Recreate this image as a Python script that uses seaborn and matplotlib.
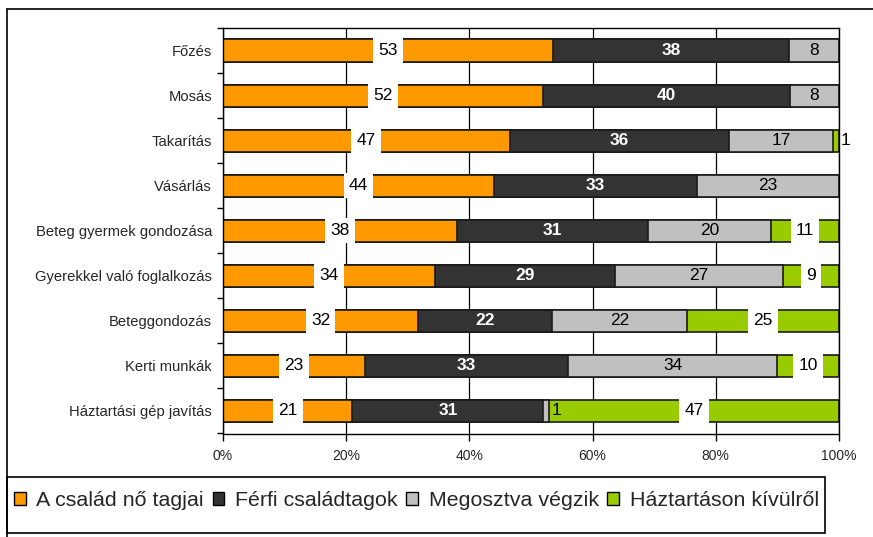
import numpy as np
import pandas as pd
import matplotlib
matplotlib.use("Agg")
import matplotlib.pyplot as plt
from matplotlib.patches import Rectangle, Patch
from matplotlib.lines import Line2D
import seaborn as sns

# data
categories = ["Főzés", "Mosás", "Takarítás", "Vásárlás", "Beteg gyermek gondozása",
              "Gyerekkel való foglalkozás", "Beteggondozás", "Kerti munkák",
              "Háztartási gép javítás"]
women = [53, 52, 47, 44, 38, 34, 32, 23, 21]
men = [38, 40, 36, 33, 31, 29, 22, 33, 31]
shared = [8, 8, 17, 23, 20, 27, 22, 34, 1]
outside = [0, 0, 1, 0, 11, 9, 25, 10, 47]
series_names = ["A család nő tagjai", "Férfi családtagok", "Megosztva végzik", "Háztartáson kívülről"]
colors = ["#FF9900", "#333333", "#C0C0C0", "#99CC00"]

sns.set_theme(style="white")
plt.rcParams["font.family"] = ["Liberation Sans", "DejaVu Sans"]

df = pd.DataFrame({"cat": categories, "w": women, "m": men, "s": shared, "o": outside})
vals = df[["w", "m", "s", "o"]].to_numpy(dtype=float)
pct = vals / vals.sum(axis=1, keepdims=True) * 100
cum = np.cumsum(pct, axis=1)

fig = plt.figure(figsize=(8.73, 5.37), dpi=100)
ax = fig.add_axes([223 / 873, 1 - 433.5 / 537, (839 - 223) / 873, (433.5 - 28) / 537])

# stacked bars: draw cumulative totals from the back
for k in range(3, -1, -1):
    plot_df = pd.DataFrame({"cat": categories, "x": cum[:, k]})
    sns.barplot(data=plot_df, x="x", y="cat", orient="h", color=colors[k],
                saturation=1, width=0.49, edgecolor="#1a1a1a", linewidth=1.2, ax=ax)

# value labels
for i in range(len(categories)):
    for k in range(4):
        v = vals[i, k]
        if v == 0:
            continue
        start = cum[i, k] - pct[i, k]
        center = start + pct[i, k] / 2
        if v <= 1:
            ax.text(cum[i, k] + 0.3, i, f"{int(v)}", ha="left", va="center",
                    fontsize=12.5, color="black", zorder=6)
            continue
        if k == 1:
            ax.text(center, i, f"{int(v)}", ha="center", va="center", fontsize=12.5,
                    color="white", fontweight="bold", zorder=6)
        elif k == 2:
            ax.text(center, i, f"{int(v)}", ha="center", va="center", fontsize=12.5,
                    color="black", zorder=6)
        else:
            ax.text(center, i, f"{int(v)}", ha="center", va="center", fontsize=12.5,
                    color="black", zorder=6,
                    bbox=dict(boxstyle="square,pad=0.3", fc="white", ec="none"))

ax.set_xlim(0, 100)
ax.set_ylim(8.5, -0.5)
ax.set_xticks([0, 20, 40, 60, 80, 100])
ax.set_xticklabels(["0%", "20%", "40%", "60%", "80%", "100%"], fontsize=10)
ax.set_yticks(range(len(categories)))
ax.set_yticklabels(categories, fontsize=10.6)
ax.set_yticks(np.arange(-0.5, 9, 1), minor=True)
ax.tick_params(axis="y", which="major", length=0, pad=8)
ax.tick_params(axis="y", which="minor", length=4, width=1, color="black", direction="out", left=True)
ax.tick_params(axis="x", which="major", length=5, width=1, color="black", direction="out",
               bottom=True, pad=6)
ax.set_xlabel("")
ax.set_ylabel("")
ax.grid(axis="x", color="black", linewidth=0.9)
ax.set_axisbelow(True)
for sp in ax.spines.values():
    sp.set_visible(True)
    sp.set_color("black")
    sp.set_linewidth(1)

# chart area frame and legend box
fig.add_artist(Line2D([7 / 873, 1], [1 - 9 / 537, 1 - 9 / 537], color="black", lw=1.2,
                      transform=fig.transFigure))
fig.add_artist(Line2D([7 / 873, 7 / 873], [0, 1 - 9 / 537], color="black", lw=1.2,
                      transform=fig.transFigure))
fig.add_artist(Rectangle((7 / 873, 1 - 533 / 537), (825 - 7) / 873, (533 - 477) / 537,
                         fill=False, ec="black", lw=1.2, transform=fig.transFigure))

handles = [Patch(facecolor=c, edgecolor="black", linewidth=1) for c in colors]
fig.legend(handles, series_names, loc="center left", bbox_to_anchor=(14 / 873, 1 - 501 / 537),
           ncol=4, frameon=False, fontsize=15.4, handlelength=0.55, handleheight=0.55,
           handletextpad=0.5, columnspacing=0.4, borderaxespad=0, borderpad=0)

fig.savefig("out.png", dpi=100, facecolor="white")
